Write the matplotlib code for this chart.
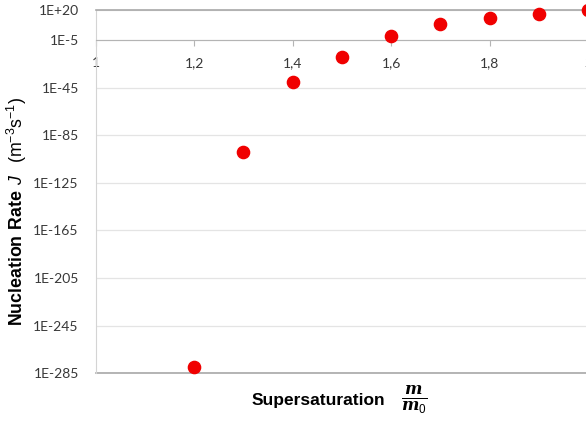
import numpy as np
from matplotlib import pyplot as plt
from matplotlib.ticker import FixedLocator, FuncFormatter

plt.rcParams['mathtext.fontset'] = 'custom'
plt.rcParams['mathtext.rm'] = 'Liberation Sans'
plt.rcParams['mathtext.bf'] = 'Liberation Sans:bold'
plt.rcParams['mathtext.sf'] = 'Liberation Sans:italic'
plt.rcParams['mathtext.it'] = 'DejaVu Serif:italic:bold'

# supersaturation m/m0 and log10 of nucleation rate J
supersat = [1.2, 1.3, 1.4, 1.5, 1.6, 1.7, 1.8, 1.9, 2.0]
log_rate = [-280, -99, -40, -19, -1.4, 8.7, 13.5, 17.1, 19.9]
rate = [10.0 ** v for v in log_rate]

y_lo, y_hi = 1e-285, 1e20
ytick_exp = [20, -5, -45, -85, -125, -165, -205, -245, -285]
xticks = [1, 1.2, 1.4, 1.6, 1.8, 2]

fig = plt.figure(figsize=(5.86, 4.22), dpi=100)
ax = fig.add_axes([0.163, 0.1154, 1.004 - 0.163, 0.9756 - 0.1154])

ax.plot(supersat, rate, 'o', color='#f00000', ms=8.8, clip_on=False, zorder=5)

ax.set_yscale('log')
ax.set_ylim(y_lo, y_hi)
ax.set_xlim(1, 2)
ax.yaxis.set_major_locator(FixedLocator([10.0 ** e for e in ytick_exp]))
ax.yaxis.set_minor_locator(FixedLocator([]))
ax.yaxis.set_major_formatter(FuncFormatter(
    lambda v, p: "1E%+d" % round(np.log10(v)) if round(np.log10(v)) > 0 else "1E%d" % round(np.log10(v))))
ax.xaxis.set_major_locator(FixedLocator(xticks))
ax.xaxis.set_major_formatter(FuncFormatter(lambda v, p: ("%g" % v).replace('.', ',')))

ax.grid(axis='y', color='#e4e4e4', lw=0.9)
ax.set_axisbelow(True)
ax.spines['bottom'].set_position(('data', 1e-5))
ax.spines['bottom'].set_color('#b4b4b4')
ax.spines['top'].set_color('#a8a8a8')
ax.spines['top'].set_linewidth(1.2)
ax.spines['left'].set_color('#d4d4d4')
ax.spines['right'].set_visible(False)
ax.axhline(y_lo, color='#a8a8a8', lw=1.2, clip_on=False)

ax.tick_params(axis='y', length=0, pad=12, labelsize=10, labelcolor='#383838')
ax.tick_params(axis='x', direction='out', length=4, color='#b4b4b4', pad=8,
               labelsize=10, labelcolor='#383838')
for lab in ax.get_xticklabels() + ax.get_yticklabels():
    lab.set_family('Lato')

fig.text(17 / 586, 1 - 211 / 422,
         r"$\mathbf{Nucleation\ Rate}\ \mathsf{J}\ \ \mathrm{(m^{-3}s^{-1})}$",
         rotation=90, ha='center', va='center', fontsize=12.8)
fig.text(318 / 586, 1 - 400 / 422, "Supersaturation", family='Liberation Sans',
         weight='bold', fontsize=12.5, ha='center', va='center')
fig.text(414 / 586, 1 - 400 / 422, r"$\frac{m}{m_0}$", fontsize=17,
         ha='center', va='center')

fig.savefig('out.png', dpi=100)
